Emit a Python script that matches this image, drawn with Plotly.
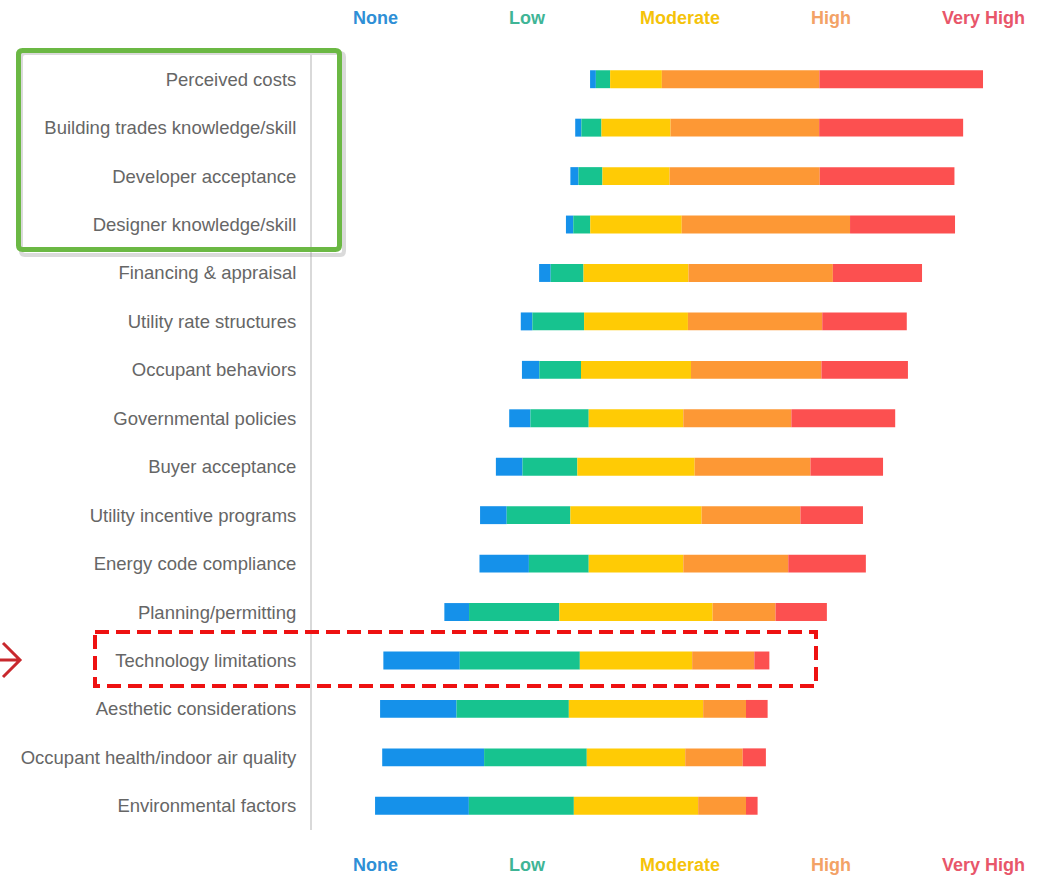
import plotly.graph_objects as go

# Barriers, top to bottom
categories = [
    "Perceived costs",
    "Building trades knowledge/skill",
    "Developer acceptance",
    "Designer knowledge/skill",
    "Financing & appraisal",
    "Utility rate structures",
    "Occupant behaviors",
    "Governmental policies",
    "Buyer acceptance",
    "Utility incentive programs",
    "Energy code compliance",
    "Planning/permitting",
    "Technology limitations",
    "Aesthetic considerations",
    "Occupant health/indoor air quality",
    "Environmental factors",
]

# Share of respondents (%) per rating level
none_pct = [1.5, 1.6, 2.1, 1.9, 3.0, 3.0, 4.5, 5.5, 6.9, 6.9, 12.8, 6.4, 19.8, 19.8, 26.4, 24.3]
low_pct = [3.7, 5.2, 6.2, 4.4, 8.5, 13.4, 10.8, 15.1, 14.2, 16.5, 15.5, 23.4, 31.1, 29.1, 26.6, 27.2]
moderate_pct = [13.4, 17.9, 17.4, 23.7, 27.2, 26.9, 28.5, 24.5, 30.4, 34.0, 24.5, 39.7, 29.1, 34.8, 25.5, 32.2]
high_pct = [40.8, 38.5, 38.9, 43.6, 37.4, 34.8, 33.8, 28.0, 30.0, 25.6, 27.2, 16.3, 16.1, 11.1, 14.9, 12.4]
very_high_pct = [42.4, 37.3, 34.9, 27.2, 23.1, 21.9, 22.4, 26.9, 18.8, 16.2, 20.1, 13.3, 3.9, 5.6, 6.0, 3.0]

levels = ["None", "Low", "Moderate", "High", "Very High"]
series = [none_pct, low_pct, moderate_pct, high_pct, very_high_pct]
bar_colors = ["#1591EA", "#17C38F", "#FFCB05", "#FD9835", "#FC5050"]
text_colors = ["#2F8FD6", "#3FB596", "#F5C30A", "#F3A266", "#E8566A"]

# Diverging layout: each bar is centred on the middle of its "Moderate" segment
offsets = [-(n + l + m / 2) for n, l, m in zip(none_pct, low_pct, moderate_pct)]

W, H = 1043, 878
L, R, T, B = 312, 1030, 55, 830
CENTER_PX = 636
PX_PER_PCT = 3.86

fig = go.Figure()
starts = list(offsets)
for name, vals, col in zip(levels, series, bar_colors):
    fig.add_trace(go.Bar(
        y=categories, x=vals, base=starts, orientation="h", name=name,
        marker=dict(color=col, line=dict(width=0)), width=0.37,
        showlegend=False, hoverinfo="name+x",
    ))
    starts = [s + v for s, v in zip(starts, vals)]


def px_x(px):
    return (px - L) / (R - L)


def px_y(py):
    return (B - py) / (B - T)


# Level labels above and below the bars
label_px = [375, 527, 680, 831, 983]
for name, col, xp in zip(levels, text_colors, label_px):
    for yp in (18, 865):
        fig.add_annotation(
            x=px_x(xp), y=px_y(yp), xref="paper", yref="paper",
            text=f"<b>{name}</b>", showarrow=False,
            font=dict(family="Liberation Sans, Arial, sans-serif", size=18, color=col),
            xanchor="center", yanchor="middle",
        )


def rounded_rect(x0, y0, x1, y1, r):
    a, b, c, d = px_x(x0), px_y(y0), px_x(x1), px_y(y1)
    rx = r / (R - L)
    ry = r / (B - T)
    return (f"M {a + rx},{b} L {c - rx},{b} Q {c},{b} {c},{b - ry} "
            f"L {c},{d + ry} Q {c},{d} {c - rx},{d} L {a + rx},{d} "
            f"Q {a},{d} {a},{d + ry} L {a},{b - ry} Q {a},{b} {a + rx},{b} Z")


# Soft shadow and green highlight around the top four barriers
fig.add_shape(type="path", path=rounded_rect(21, 53, 344, 255, 4),
              xref="paper", yref="paper", line=dict(color="rgba(150,150,150,0.35)", width=4))
fig.add_shape(type="path", path=rounded_rect(18.5, 50.5, 339.5, 249.5, 4),
              xref="paper", yref="paper", line=dict(color="#6BB844", width=5))

# Dashed red highlight around "Technology limitations"
fig.add_shape(type="rect", x0=px_x(95), x1=px_x(816), y0=px_y(632), y1=px_y(686),
              xref="paper", yref="paper",
              line=dict(color="#EE1111", width=4, dash="14px,7px"))

# Arrow pointing at the highlighted row
fig.add_shape(type="path",
              path=(f"M {px_x(-2)},{px_y(660)} L {px_x(19)},{px_y(660)} "
                    f"M {px_x(3)},{px_y(643)} L {px_x(20)},{px_y(660)} L {px_x(3)},{px_y(677)}"),
              xref="paper", yref="paper", line=dict(color="#C8282D", width=3))

x_left = (L - CENTER_PX) / PX_PER_PCT
x_right = (R - CENTER_PX) / PX_PER_PCT

fig.update_layout(
    width=W, height=H,
    margin=dict(l=L, r=W - R, t=T, b=H - B),
    paper_bgcolor="white", plot_bgcolor="white",
    barmode="overlay",
    xaxis=dict(range=[x_left, x_right], showgrid=False, zeroline=False,
               showticklabels=False, showline=False, fixedrange=True),
    yaxis=dict(categoryorder="array", categoryarray=categories,
               range=[len(categories) - 0.5, -0.5],
               showgrid=False, zeroline=False, ticks="",
               showline=True, linecolor="#D9D9D9", linewidth=2,
               ticklabelstandoff=10,
               tickfont=dict(family="Liberation Sans, Arial, sans-serif", size=18.5, color="#666666")),
    font=dict(family="Liberation Sans, Arial, sans-serif"),
)

fig.write_html("out.html")
